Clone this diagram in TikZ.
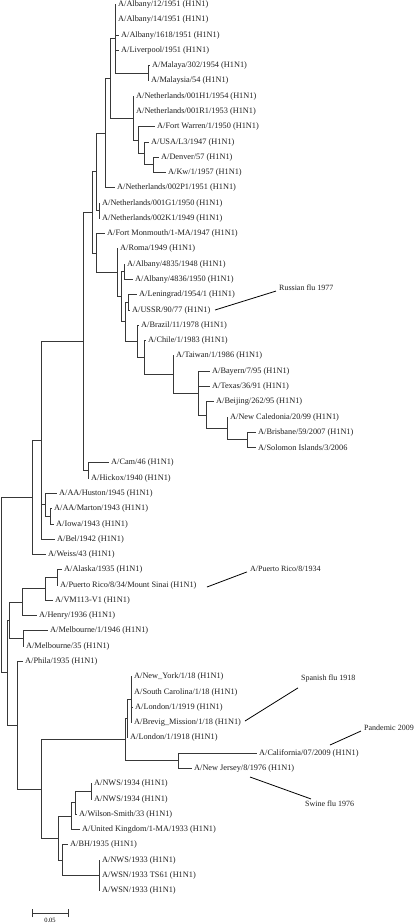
\documentclass[tikz,border=0pt]{standalone}
\usepackage{fontspec}
\setmainfont{Liberation Serif}
\begin{document}
\begin{tikzpicture}[x=1pt,y=-1pt,
  br/.style={draw=black!78, line width=1pt},
  lf/.style={anchor=west, inner xsep=2pt, inner ysep=0pt, font=\fontsize{8.3}{9}\selectfont, text=black!88},
  ann/.style={anchor=west, inner sep=0pt, font=\fontsize{8}{9}\selectfont, text=black!88},
  cl/.style={draw=black, line width=0.8pt}]
\useasboundingbox[fill=white] (0,0) rectangle (416,924);
% leaves
\node[lf] (l0) at (116,4.5) {A/Albany/12/1951 (H1N1)};
\node[lf] (l1) at (116,19.78) {A/Albany/14/1951 (H1N1)};
\node[lf] (l2) at (119,35.06) {A/Albany/1618/1951 (H1N1)};
\node[lf] (l3) at (119,50.34) {A/Liverpool/1951 (H1N1)};
\node[lf] (l4) at (150,65.62) {A/Malaya/302/1954 (H1N1)};
\node[lf] (l5) at (149,80.9) {A/Malaysia/54 (H1N1)};
\node[lf] (l6) at (134,96.18) {A/Netherlands/001H1/1954 (H1N1)};
\node[lf] (l7) at (134,111.46) {A/Netherlands/001R1/1953 (H1N1)};
\node[lf] (l8) at (155,126.74) {A/Fort Warren/1/1950 (H1N1)};
\node[lf] (l9) at (149,142.02) {A/USA/L3/1947 (H1N1)};
\node[lf] (l10) at (159,157.3) {A/Denver/57 (H1N1)};
\node[lf] (l11) at (166,172.58) {A/Kw/1/1957 (H1N1)};
\node[lf] (l12) at (115,187.86) {A/Netherlands/002P1/1951 (H1N1)};
\node[lf] (l13) at (100,203.14) {A/Netherlands/001G1/1950 (H1N1)};
\node[lf] (l14) at (100,218.42) {A/Netherlands/002K1/1949 (H1N1)};
\node[lf] (l15) at (105,233.7) {A/Fort Monmouth/1-MA/1947 (H1N1)};
\node[lf] (l16) at (118,248.98) {A/Roma/1949 (H1N1)};
\node[lf] (l17) at (125,264.26) {A/Albany/4835/1948 (H1N1)};
\node[lf] (l18) at (133,279.54) {A/Albany/4836/1950 (H1N1)};
\node[lf] (l19) at (137,294.82) {A/Leningrad/1954/1 (H1N1)};
\node[lf] (l20) at (130,310.1) {A/USSR/90/77 (H1N1)};
\node[lf] (l21) at (139,325.38) {A/Brazil/11/1978 (H1N1)};
\node[lf] (l22) at (146,340.66) {A/Chile/1/1983 (H1N1)};
\node[lf] (l23) at (174,355.94) {A/Taiwan/1/1986 (H1N1)};
\node[lf] (l24) at (210,371.22) {A/Bayern/7/95 (H1N1)};
\node[lf] (l25) at (210,386.5) {A/Texas/36/91 (H1N1)};
\node[lf] (l26) at (214,401.78) {A/Beijing/262/95 (H1N1)};
\node[lf] (l27) at (228,417.06) {A/New Caledonia/20/99 (H1N1)};
\node[lf] (l28) at (256,432.34) {A/Brisbane/59/2007 (H1N1)};
\node[lf] (l29) at (256,447.62) {A/Solomon Islands/3/2006};
\node[lf] (l30) at (109,462.9) {A/Cam/46 (H1N1)};
\node[lf] (l31) at (89,478.18) {A/Hickox/1940 (H1N1)};
\node[lf] (l32) at (57,493.46) {A/AA/Huston/1945 (H1N1)};
\node[lf] (l33) at (52,508.74) {A/AA/Marton/1943 (H1N1)};
\node[lf] (l34) at (54,524.02) {A/Iowa/1943 (H1N1)};
\node[lf] (l35) at (55,539.3) {A/Bel/1942 (H1N1)};
\node[lf] (l36) at (46,554.58) {A/Weiss/43 (H1N1)};
\node[lf] (l37) at (62,569.86) {A/Alaska/1935 (H1N1)};
\node[lf] (l38) at (58,585.14) {A/Puerto Rico/8/34/Mount Sinai (H1N1)};
\node[lf] (l39) at (53,600.42) {A/VM113-V1 (H1N1)};
\node[lf] (l40) at (37,615.7) {A/Henry/1936 (H1N1)};
\node[lf] (l41) at (48,630.98) {A/Melbourne/1/1946 (H1N1)};
\node[lf] (l42) at (24,646.26) {A/Melbourne/35 (H1N1)};
\node[lf] (l43) at (23,661.54) {A/Phila/1935 (H1N1)};
\node[lf] (l44) at (132,676.82) {A/New\_York/1/18 (H1N1)};
\node[lf] (l45) at (132,692.1) {A/South Carolina/1/18 (H1N1)};
\node[lf] (l46) at (133,707.38) {A/London/1/1919 (H1N1)};
\node[lf] (l47) at (132,722.66) {A/Brevig\_Mission/1/18 (H1N1)};
\node[lf] (l48) at (128,737.94) {A/London/1/1918 (H1N1)};
\node[lf] (l49) at (257,753.22) {A/California/07/2009 (H1N1)};
\node[lf] (l50) at (192,768.5) {A/New Jersey/8/1976 (H1N1)};
\node[lf] (l51) at (92,783.78) {A/NWS/1934 (H1N1)};
\node[lf] (l52) at (92,799.06) {A/NWS/1934 (H1N1)};
\node[lf] (l53) at (77,814.34) {A/Wilson-Smith/33 (H1N1)};
\node[lf] (l54) at (80,829.62) {A/United Kingdom/1-MA/1933 (H1N1)};
\node[lf] (l55) at (68,844.9) {A/BH/1935 (H1N1)};
\node[lf] (l56) at (100,860.18) {A/NWS/1933 (H1N1)};
\node[lf] (l57) at (100,875.46) {A/WSN/1933 TS61 (H1N1)};
\node[lf] (l58) at (100,890.74) {A/WSN/1933 (H1N1)};
% internal nodes
\coordinate (I) at (148,73.26);
\coordinate (H) at (115,38.88);
\coordinate (M) at (153,164.94);
\coordinate (L) at (144,153.48);
\coordinate (K) at (138,140.11);
\coordinate (J) at (133,118.15);
\coordinate (G) at (110,78.5);
\coordinate (F) at (105,133.18);
\coordinate (N) at (99,210.78);
\coordinate (E) at (96,171.98);
\coordinate (AA) at (247,439.98);
\coordinate (Z) at (227,428.52);
\coordinate (Y) at (206,415.15);
\coordinate (X) at (198,393.19);
\coordinate (W) at (173,374.56);
\coordinate (CH) at (144,357.61);
\coordinate (BR) at (137,341.5);
\coordinate (LU) at (128,302.46);
\coordinate (NV) at (125,321.98);
\coordinate (ALB) at (124,271.9);
\coordinate (Q) at (121,296.94);
\coordinate (P) at (117,272.96);
\coordinate (O) at (96,253.33);
\coordinate (D) at (92,212.66);
\coordinate (R) at (88,470.54);
\coordinate (C) at (83,341.6);
\coordinate (T) at (50,516.38);
\coordinate (S) at (45,504.92);
\coordinate (B) at (41,440.45);
\coordinate (A) at (32,497.52);
\coordinate (GG) at (57,577.5);
\coordinate (FF) at (45,588.96);
\coordinate (EE) at (22,602.33);
\coordinate (ME) at (23,638.62);
\coordinate (CC) at (9,620.48);
\coordinate (KK) at (131,699.74);
\coordinate (MM) at (127,718.84);
\coordinate (LL) at (178,760.86);
\coordinate (II) at (125,739.85);
\coordinate (QQ) at (91,791.42);
\coordinate (PP) at (75,802.88);
\coordinate (NN) at (71,816.25);
\coordinate (RR) at (99,875.46);
\coordinate (OO) at (62,860.18);
\coordinate (JJ) at (58,838.22);
\coordinate (HH) at (41,789.04);
\coordinate (DD) at (17,725.29);
\coordinate (BB) at (7,672.89);
\coordinate (RT) at (1,585.2);
% branches
\foreach \p/\c in {H/l0.west,H/l1.west,H/l2.west,H/l3.west,H/I,I/l4.west,I/l5.west,
  J/l6.west,J/l7.west,J/K,K/l8.west,K/L,L/l9.west,L/M,M/l10.west,M/l11.west,
  G/H,G/J,F/G,F/l12.west,N/l13.west,N/l14.west,E/F,E/N,
  O/l15.west,O/P,P/l16.west,P/Q,Q/ALB,Q/NV,ALB/l17.west,ALB/l18.west,
  NV/LU,NV/BR,LU/l19.west,LU/l20.west,BR/l21.west,BR/CH,CH/l22.west,CH/W,
  W/l23.west,W/X,X/l24.west,X/l25.west,X/Y,Y/l26.west,Y/Z,Z/l27.west,Z/AA,
  AA/l28.west,AA/l29.west,D/E,D/O,C/D,C/R,R/l30.west,R/l31.west,
  B/C,B/S,B/l35.west,S/l32.west,S/T,T/l33.west,T/l34.west,A/B,A/l36.west,
  RT/A,RT/BB,BB/CC,BB/DD,CC/EE,CC/ME,EE/FF,EE/l40.west,FF/GG,FF/l39.west,
  GG/l37.west,GG/l38.west,ME/l41.west,ME/l42.west,DD/l43.west,DD/HH,
  HH/II,HH/JJ,II/MM,II/LL,MM/KK,MM/l48.west,KK/l44.west,KK/l45.west,
  KK/l46.west,KK/l47.west,LL/l49.west,LL/l50.west,JJ/NN,JJ/OO,NN/PP,
  NN/l54.west,PP/QQ,PP/l53.west,QQ/l51.west,QQ/l52.west,OO/l55.west,OO/RR,
  RR/l56.west,RR/l57.west,RR/l58.west}
  \draw[br] (\p) |- (\c);
% annotations
\node[ann] (ru) at (279,288) {Russian flu 1977};
\coordinate (ru0) at (215,310);
\draw[cl] (ru0) -- ([xshift=-3pt]ru.south west);
\node[ann] (pr) at (250,569) {A/Puerto Rico/8/1934};
\coordinate (pr0) at (207,587);
\draw[cl] (pr0) -- ([xshift=-3pt]pr.south west);
\node[ann] (sp) at (301,679) {Spanish flu 1918};
\coordinate (sp0) at (245,721);
\draw[cl] (sp0) -- ([shift={(-3,5)}]sp.south west);
\node[ann] (pd) at (364,728) {Pandemic 2009};
\coordinate (pd0) at (330,745);
\draw[cl] (pd0) -- ([xshift=-3pt]pd.south west);
\node[ann] (sw) at (305,804) {Swine flu 1976};
\coordinate (sw0) at (250,777);
\draw[cl] (sw0) -- ([shift={(6,-2)}]sw.north west);
% scale bar
\coordinate (s1) at (32,913);
\coordinate (s2) at (68,913);
\draw[br] (s1) -- (s2);
\draw[br] ([yshift=-4pt]s1) -- ([yshift=4pt]s1);
\draw[br] ([yshift=-4pt]s2) -- ([yshift=4pt]s2);
\node[inner sep=0pt, anchor=north, font=\fontsize{6.5}{7}\selectfont] (sbl) at (50,918) {0.05};
\end{tikzpicture}
\end{document}
